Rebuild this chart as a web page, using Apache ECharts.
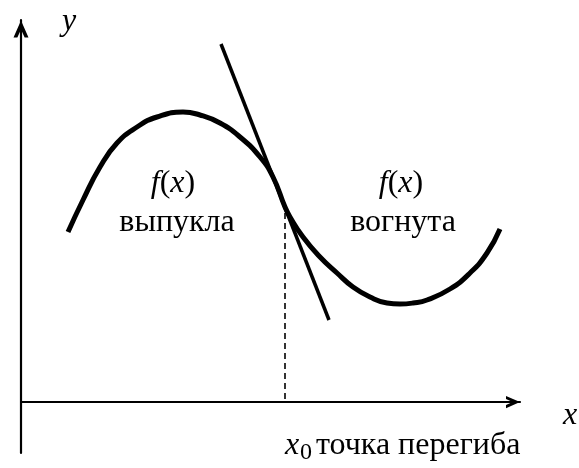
<!DOCTYPE html>
<html>
<head>
<meta charset="utf-8">
<script src="https://cdn.jsdelivr.net/npm/echarts@6/dist/echarts.min.js"></script>
<style>
  html, body { margin: 0; padding: 0; background: #fff; }
  #chart-container { width: 579px; height: 468px; }
</style>
</head>
<body>
<div id="chart-container"></div>
<script>
// points (origin = axes crossing, 1 unit ~ 1 px)
var curveX = [47, 62, 79, 96, 116, 136, 162, 179, 199, 219, 239, 252, 264, 269, 282, 299, 316, 332, 349, 366, 379, 392, 406, 429, 449, 466, 479];
var curveY = [170, 202, 235, 259, 275, 285, 290, 287, 279, 265, 245, 225, 195, 185, 165, 145, 129, 115, 105, 99, 98, 99, 102, 113, 129, 149, 173];
var tangentX = [200, 308];
var tangentY = [358, 82];
var x0 = 264;
var inflectionY = 195;

var font = 'Liberation Serif';

var dom = document.getElementById('chart-container');
var myChart = echarts.init(dom, null, { renderer: 'canvas' });

function pairs(xs, ys) {
  return xs.map(function (x, i) { return [x, ys[i]]; });
}

// open arrow head, drawn as a filled chevron
var chevron = 'path://M7,0 L14,16 L10.4,16 L7,8.5 L3.6,16 L0,16 Z';

var option = {
  animation: false,
  backgroundColor: '#fff',
  grid: { left: 21, right: 59, top: 20, bottom: 15, containLabel: false, outerBoundsMode: 'none' },
  xAxis: {
    type: 'value', min: 0, max: 499,
    axisLine: {
      show: true, onZero: true,
      symbol: ['none', chevron], symbolSize: [15, 14], symbolOffset: [0, -7],
      lineStyle: { color: '#000', width: 2.2 }
    },
    axisTick: { show: false }, axisLabel: { show: false }, splitLine: { show: false }
  },
  yAxis: {
    type: 'value', min: -51, max: 382,
    axisLine: {
      show: true, onZero: true,
      symbol: ['none', chevron], symbolSize: [15, 18], symbolOffset: [0, -9],
      lineStyle: { color: '#000', width: 2.2 }
    },
    axisTick: { show: false }, axisLabel: { show: false }, splitLine: { show: false }
  },
  series: [
    {
      name: 'f(x)', type: 'line', smooth: 0.5, showSymbol: false, z: 3,
      lineStyle: { color: '#000', width: 5 },
      data: pairs(curveX, curveY)
    },
    {
      name: 'tangent', type: 'line', showSymbol: false, z: 2,
      lineStyle: { color: '#000', width: 3.5 },
      data: pairs(tangentX, tangentY)
    },
    {
      name: 'x0', type: 'line', showSymbol: false, z: 1,
      lineStyle: { color: '#000', width: 1.6, type: [6, 4] },
      data: [[x0, inflectionY - 6], [x0, 0]]
    }
  ],
  graphic: [
    { type: 'text', left: 62, top: 6, style: { text: 'y', font: 'italic 32px ' + font, fill: '#000' } },
    { type: 'text', left: 563, top: 400, style: { text: 'x', font: 'italic 32px ' + font, fill: '#000' } },
    { type: 'text', x: 173, y: 184, style: { text: '{i|f}({i|x})', font: '32px ' + font, fill: '#000', align: 'center', verticalAlign: 'middle', rich: { i: { fontStyle: 'italic', fontFamily: font, fontSize: 32 } } } },
    { type: 'text', x: 177, y: 223, style: { text: 'выпукла', font: '32px ' + font, fill: '#000', align: 'center', verticalAlign: 'middle' } },
    { type: 'text', x: 401, y: 184, style: { text: '{i|f}({i|x})', font: '32px ' + font, fill: '#000', align: 'center', verticalAlign: 'middle', rich: { i: { fontStyle: 'italic', fontFamily: font, fontSize: 32 } } } },
    { type: 'text', x: 403, y: 223, style: { text: 'вогнута', font: '32px ' + font, fill: '#000', align: 'center', verticalAlign: 'middle' } },
    { type: 'text', x: 285, y: 446, style: { text: 'x', font: 'italic 32px ' + font, fill: '#000', align: 'left', verticalAlign: 'middle' } },
    { type: 'text', x: 300, y: 453, style: { text: '0', font: '24px ' + font, fill: '#000', align: 'left', verticalAlign: 'middle' } },
    { type: 'text', x: 316, y: 446, style: { text: 'точка перегиба', font: '32px ' + font, fill: '#000', align: 'left', verticalAlign: 'middle' } }
  ]
};

myChart.setOption(option);
window.addEventListener('resize', myChart.resize);
</script>
</body>
</html>
